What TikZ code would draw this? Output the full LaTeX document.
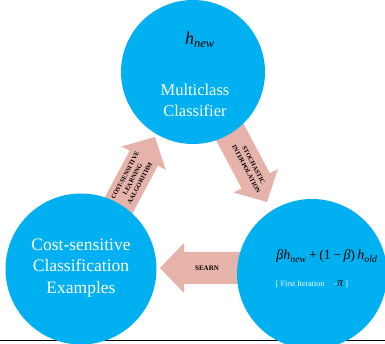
\documentclass[tikz,border=0pt]{standalone}
\usepackage{fontspec}
\setmainfont{Liberation Serif}
\definecolor{bubbleblue}{HTML}{00B0F0}
\definecolor{arrowpink}{HTML}{E6B3AB}
% block arrow: tip point, direction angle, total length
\newcommand{\flowarrow}[3]{%
  \begin{scope}[shift={#1}, rotate=#2]
    \fill[arrowpink] (-#3,-16) -- (-24,-16) -- (-24,-25) -- (0,0)
      -- (-24,25) -- (-24,16) -- (-#3,16) -- cycle;
  \end{scope}}
\newcommand{\lowsub}[1]{\textsubscript{\textit{#1}}}
\begin{document}
\begin{tikzpicture}[x=1pt,y=-1pt,
  bubble/.style={circle, fill=bubbleblue, inner sep=0pt, minimum size=#1},
  bubbletext/.style={text=white, align=center, font=\fontsize{16.5}{21}\selectfont},
  arrowtext/.style={text=black, align=center, font=\fontsize{6.4}{8.3}\selectfont\bfseries},
]
\clip (0,0) rectangle (385,344);
\useasboundingbox (0,0) rectangle (385,344);

% base rule
\draw[line width=0.9pt] (0,340) -- (385,340);

% block arrows (behind the circles)
\coordinate (tipA) at (155,137);
\coordinate (tipB) at (267,202);
\coordinate (tipC) at (160,268);
\flowarrow{(tipA)}{62}{100}
\flowarrow{(tipB)}{-62}{100}
\flowarrow{(tipC)}{180}{90}

% circles
\node[bubble=144pt] (cls) at (193,72) {};
\node[bubble=151pt] (ex) at (81,269) {};
\node[bubble=150pt] (mix) at (312,274) {};

% circle texts
\node[font=\fontsize{18}{20}\selectfont, anchor=base] (hn) at (200,45)
  {\textit{h}\lowsub{new}};
\node[bubbletext] (clsname) at (195,100) {Multiclass\\Classifier};
\node[bubbletext, font=\fontsize{17.5}{21.5}\selectfont] (exname) at (81,268)
  {Cost-sensitive\\Classification\\Examples};
\node[font=\fontsize{14}{17}\selectfont, anchor=base] (mixf) at (327,260)
  {\textit{βh}\lowsub{new}\,+\,(1\,−\,\textit{β})\,\textit{h}\lowsub{old}};
\node[anchor=base, font=\fontsize{8}{9}\selectfont, text=white] (iter) at (312,287)
  {[ First Iteration \quad -{\color{black}\fontsize{12}{12}\selectfont\textit{π}} ]};

% arrow labels
\node[arrowtext, rotate=62] (lblA) at (132.5,179.4)
  {COST-SENSITIVE\\LEARNING\\AALGORITHM};
\node[arrowtext, rotate=-62] (lblB) at (250,167)
  {STOCHASTIC\\INTERPOLATION};
\node[arrowtext, font=\fontsize{7}{8}\selectfont\bfseries] (lblC) at (207,268) {SEARN};
\end{tikzpicture}
\end{document}
